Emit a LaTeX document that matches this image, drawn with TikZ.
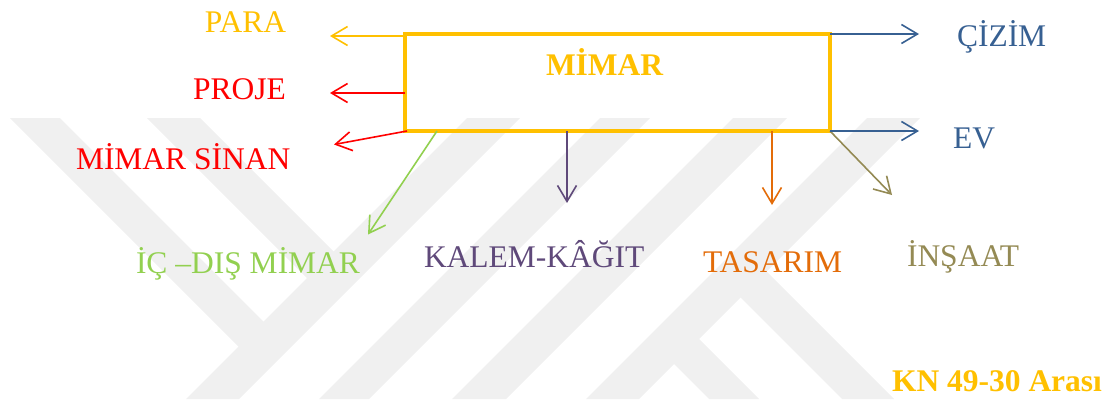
\documentclass[tikz,border=0pt]{standalone}
\usepackage{fontspec}
\setmainfont{Liberation Serif}
\usetikzlibrary{arrows.meta}
\definecolor{cgold}{HTML}{FFC000}
\definecolor{cred}{HTML}{FF0000}
\definecolor{cgreen}{HTML}{92D050}
\definecolor{cpurple}{HTML}{5F497A}
\definecolor{corange}{HTML}{E36C09}
\definecolor{colive}{HTML}{948A54}
\definecolor{cblue}{HTML}{376092}
\definecolor{wmgray}{HTML}{F0F0F0}
\begin{document}
\begin{tikzpicture}[x=1pt,y=-1pt,
  lbl/.style={inner sep=0pt, outer sep=0pt, font=\fontsize{31.5}{36}\selectfont},
  lblb/.style={inner sep=0pt, outer sep=0pt, font=\fontsize{31.5}{36}\selectfont\bfseries},
  conn/.style={line width=1.6pt, -{Straight Barb[length=16pt,width=19pt]}},
  wm/.style={fill=wmgray, draw=none},
  mainbox/.style={draw=cgold, line width=4pt, minimum width=425pt, minimum height=97pt, inner sep=0pt, outer sep=0pt}]
\useasboundingbox (0,0) rectangle (1116,399);
% watermark
\fill[wm] (467,118) -- (520,118) -- (239,399) -- (186,399) -- cycle;
\fill[wm] (600,118) -- (650,118) -- (369,399) -- (319,399) -- cycle;
\fill[wm] (733,118) -- (787,118) -- (506,399) -- (452,399) -- cycle;
\fill[wm] (867,118) -- (920,118) -- (639,399) -- (586,399) -- cycle;
\fill[wm] (10,118) -- (60,118) -- (276.5,334.5) -- (251.5,359.5) -- cycle;
\fill[wm] (147,118) -- (200,118) -- (346.5,264.5) -- (320,291) -- cycle;
\fill[wm] (753,258) -- (894,399) -- (842,399) -- (727,284) -- cycle;
\fill[wm] (685.5,325.5) -- (759,399) -- (709,399) -- (660.5,350.5) -- cycle;
% box
\node[mainbox, anchor=north west] (box) at (405,34) {};
% tips
\coordinate (tPara) at (330,36);
\coordinate (tProje) at (330,93);
\coordinate (tSinan) at (334,144.5);
\coordinate (sIc) at (437,131);
\coordinate (tIc) at (368,234.5);
\coordinate (tKalem) at (567,203);
\coordinate (tTas) at (772,205);
\coordinate (tIns) at (892,195);
\coordinate (tCizim) at (919,34);
\coordinate (tEv) at (919,131);
% connectors
\draw[conn, cgold] ([yshift=-2pt]box.north west) -- (tPara);
\draw[conn, cred] (box.west |- tProje) -- (tProje);
\draw[conn, cred] ([xshift=2pt]box.south west) -- (tSinan);
\draw[conn, cgreen] (sIc) -- (tIc);
\draw[conn, cpurple] (box.south -| tKalem) -- (tKalem);
\draw[conn, corange] (box.south -| tTas) -- (tTas);
\draw[conn, colive] (box.south east) -- (tIns);
\draw[conn, cblue] (box.north east) -- (tCizim);
\draw[conn, cblue] (box.south east) -- (tEv);
% labels
\node[lblb, text=cgold, anchor=base west] (mimar) at (546,75) {MİMAR};
\node[lbl, text=cgold, anchor=base east] (para) at (286,32.7) {PARA};
\node[lbl, text=cred, anchor=base east] (proje) at (286,99.3) {PROJE};
\node[lbl, text=cred, anchor=base west] (sinan) at (76,169) {MİMAR SİNAN};
\node[lbl, text=cgreen, anchor=base west] (ic) at (136,273) {İÇ –DIŞ MİMAR};
\node[lbl, text=cpurple, anchor=base west] (kalem) at (424,267) {KALEM-KÂĞIT};
\node[lbl, text=corange, anchor=base west] (tasarim) at (703,272.7) {TASARIM};
\node[lbl, text=colive, anchor=base west] (insaat) at (907,266) {İNŞAAT};
\node[lbl, text=cblue, anchor=base west] (cizim) at (957,46) {ÇİZİM};
\node[lbl, text=cblue, anchor=base west] (ev) at (953,148) {EV};
\node[lblb, text=cgold, anchor=base west] (kn) at (892,391.7) {KN 49-30 Arası};
\end{tikzpicture}
\end{document}
